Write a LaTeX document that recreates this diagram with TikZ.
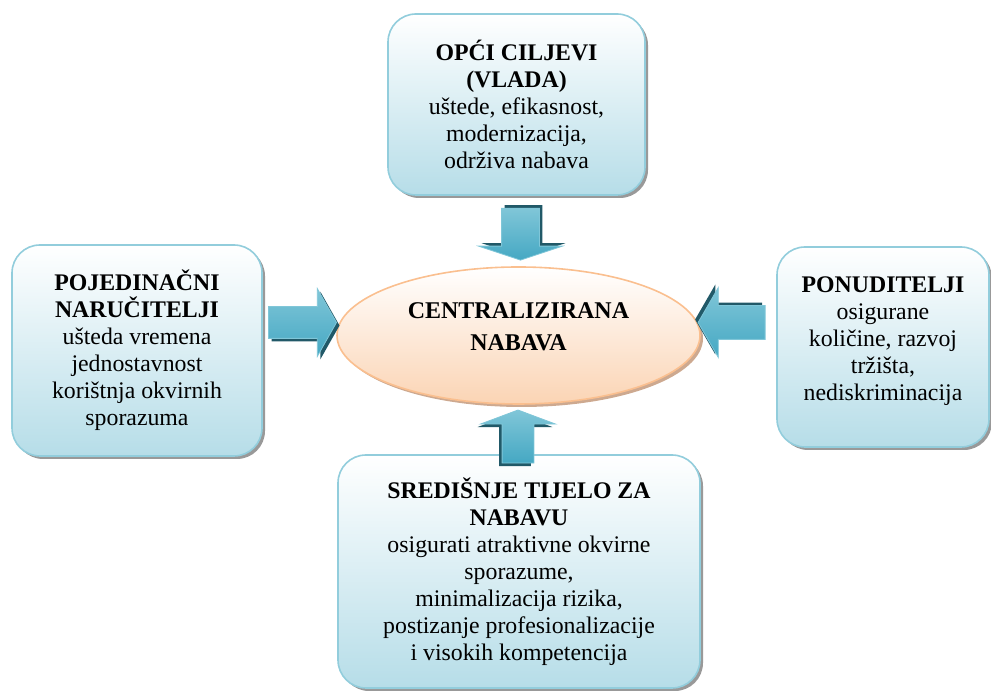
\documentclass[tikz,border=0pt]{standalone}
\usepackage{fontspec}
\setmainfont{Liberation Serif}
\usetikzlibrary{shapes.geometric,shapes.arrows,shadows}
\definecolor{boxline}{HTML}{92CDDC}
\definecolor{boxfill}{HTML}{B6DDE8}
\definecolor{ovalline}{HTML}{FABF8F}
\definecolor{ovalfill}{HTML}{FBD4B4}
\definecolor{ovalshade}{HTML}{C8A084}
\definecolor{arrowfill}{HTML}{45A8C3}
\definecolor{arrowlight}{HTML}{80C6D8}
\definecolor{arrowshade}{HTML}{215968}
\begin{document}
\begin{tikzpicture}[x=1pt,y=1pt,
	goalbox/.style={draw=boxline, line width=1.6pt, rounded corners=28pt,
		top color=white, bottom color=boxfill, align=center, inner sep=0pt,
		font=\fontsize{23.8}{27}\selectfont,
		drop shadow={shadow xshift=3pt, shadow yshift=-3pt, fill=black!50, opacity=0.8}},
	blockarrow/.style={single arrow, draw=arrowlight, line width=0.8pt,
		top color=arrowlight, bottom color=arrowfill, inner xsep=0pt}]
		\useasboundingbox (0,0) rectangle (991,692);
		% the four parties
		\node[goalbox, minimum width=257, minimum height=181] (goals) at (516.5,587.5)
		{\textbf{OPĆI CILJEVI}\\\textbf{(VLADA)}\\uštede, efikasnost,\\modernizacija,\\održiva nabava};
		\node[goalbox, minimum width=250, minimum height=211] (buyers) at (137,341.5)
		{\textbf{POJEDINAČNI}\\\textbf{NARUČITELJI}\\ušteda vremena\\jednostavnost\\korištnja okvirnih\\sporazuma};
		\node[goalbox, minimum width=212, minimum height=200, text depth=16pt] (bidders) at (883,345)
		{\textbf{PONUDITELJI}\\osigurane\\količine, razvoj\\tržišta,\\nediskriminacija};
		\node[goalbox, minimum width=362, minimum height=233] (agency) at (519,120.5)
		{\textbf{SREDIŠNJE TIJELO ZA}\\\textbf{NABAVU}\\osigurati atraktivne okvirne\\sporazume,\\minimalizacija rizika,\\postizanje profesionalizacije\\i visokih kompetencija};
		
		\node[ellipse, draw=ovalline, line width=1.6pt, top color=white, bottom color=ovalfill,
		minimum width=363, minimum height=137, align=center, text depth=18pt,
		font=\bfseries\fontsize{24}{32}\selectfont,
		drop shadow={shadow xshift=3pt, shadow yshift=-3pt, fill=ovalshade, opacity=0.9}]
		(central) at (518.5,356.5) {CENTRALIZIRANA\\NABAVA};
		
		% arrows into the centre
		\node[blockarrow, minimum height=52, inner ysep=18.5, single arrow head extend=23,
		single arrow tip angle=143, rotate=-90, drop shadow={shadow xshift=3pt, shadow yshift=3pt, fill=arrowshade, opacity=1}]
		(goalsarrow) at (520.5,461) {};
		\node[blockarrow, minimum height=68, inner ysep=15.5, single arrow head extend=18,
		single arrow tip angle=121, drop shadow={shadow xshift=3pt, shadow yshift=-3pt, fill=arrowshade, opacity=1}]
		(buyersarrow) at (298,369.5) {};
		\node[blockarrow, minimum height=67, inner ysep=16.5, single arrow head extend=18,
		single arrow tip angle=120, rotate=180, drop shadow={shadow xshift=-3pt, shadow yshift=3pt, fill=arrowshade, opacity=1}]
		(biddersarrow) at (736.5,369.5) {};
		\node[blockarrow, minimum height=53, inner ysep=15.5, single arrow head extend=21.5,
		single arrow tip angle=139, rotate=90, drop shadow={shadow xshift=-3pt, shadow yshift=-3pt, fill=arrowshade, opacity=1}]
		(agencyarrow) at (518,252.5) {};
\end{tikzpicture}
\end{document}
